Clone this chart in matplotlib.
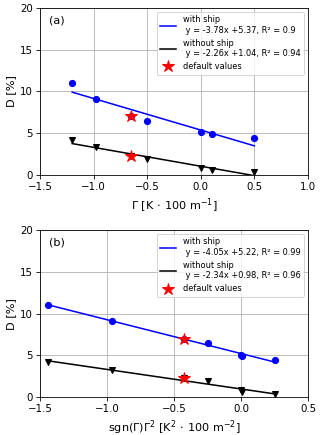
import numpy as np
import matplotlib.pyplot as plt

# lapse rate values and corresponding D values
gamma = np.array([-1.2, -0.98, -0.65, -0.5, 0.0, 0.1, 0.5])
gamma_sq = np.sign(gamma) * gamma ** 2
d_ship = np.array([11.0, 9.1, 7.0, 6.5, 5.1, 4.9, 4.4])
d_noship = np.array([4.2, 3.3, 2.3, 1.9, 0.8, 0.6, 0.4])
default_idx = 2

fits_a = {'ship': (-3.78, 5.37, 0.9), 'noship': (-2.26, 1.04, 0.94)}
fits_b = {'ship': (-4.05, 5.22, 0.99), 'noship': (-2.34, 0.98, 0.96)}


def panel(ax, x, fits, tag, xlabel, xlim):
    xs = np.array([x.min(), x.max()])
    a, b, r = fits['ship']
    ax.plot(x, d_ship, 'o', color='blue', ms=6)
    ax.plot(xs, a * xs + b, color='blue', lw=1.5,
            label='with ship\n y = %sx +%s, R² = %s' % (a, b, r))
    a, b, r = fits['noship']
    ax.plot(x, d_noship, 'v', color='black', ms=6)
    ax.plot(xs, a * xs + b, color='black', lw=1.5,
            label='without ship\n y = %sx +%s, R² = %s' % (a, b, r))
    ax.plot([x[default_idx], x[default_idx]],
            [d_ship[default_idx], d_noship[default_idx]],
            '*', color='red', ms=12, ls='none', label='default values')
    ax.set_xlim(*xlim)
    ax.set_xticks(np.arange(xlim[0], xlim[1] + 0.01, 0.5))
    ax.set_ylim(0, 20)
    ax.set_yticks([0, 5, 10, 15, 20])
    ax.tick_params(labelsize=10)
    ax.grid(True)
    ax.set_ylabel('D [%]', fontsize=11)
    ax.set_xlabel(xlabel, fontsize=11)
    ax.text(0.035, 0.925, tag, transform=ax.transAxes, va='center', fontsize=11)
    ax.legend(loc='upper right', fontsize=8)


# drawn at default sizes, then rendered at a lower dpi to get 320x435
fig, (ax1, ax2) = plt.subplots(2, 1, figsize=(320 / 74, 435 / 74))
fig.subplots_adjust(left=0.125, right=0.9625, top=0.982, bottom=0.087, hspace=0.33)

panel(ax1, gamma, fits_a, '(a)', r'$\Gamma$ [K$\,\cdot\,$100 m$^{-1}$]', (-1.5, 1.0))
panel(ax2, gamma_sq, fits_b, '(b)',
      r'sgn($\Gamma$)$\Gamma^2$ [K$^2\,\cdot\,$100 m$^{-2}$]', (-1.5, 0.5))

plt.savefig('out.png', dpi=74)
